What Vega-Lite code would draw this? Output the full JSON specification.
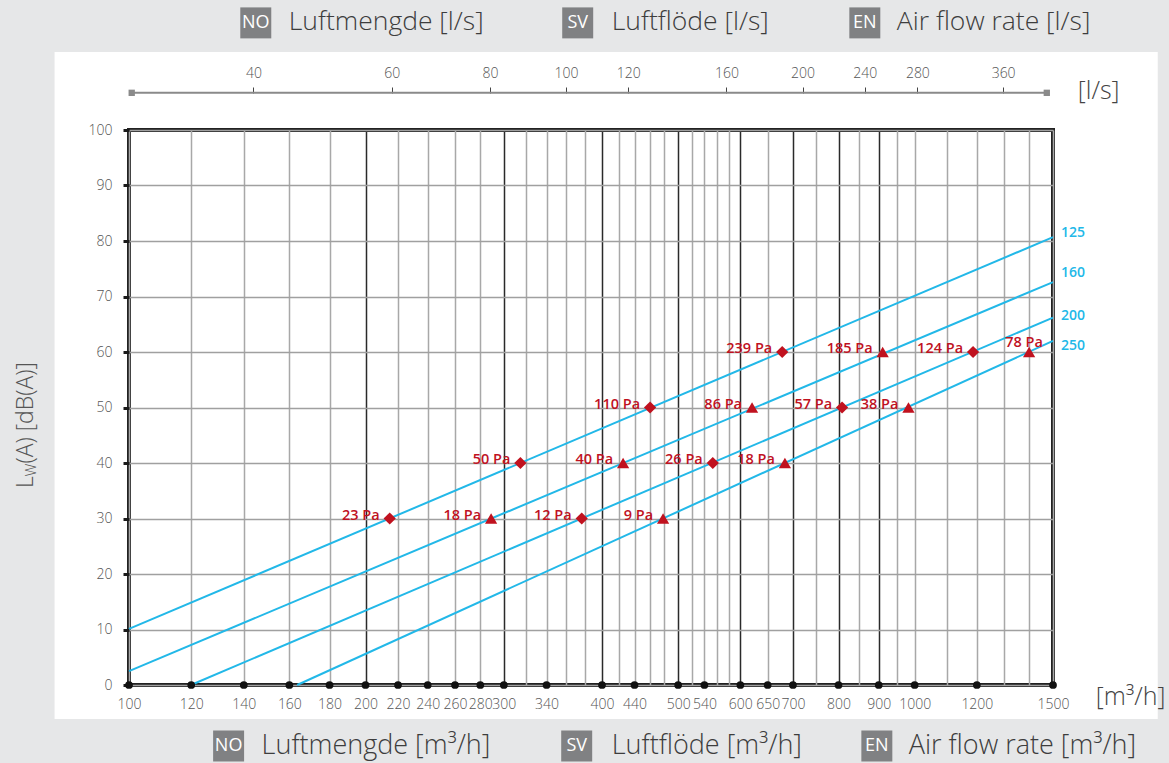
{
  "$schema": "https://vega.github.io/schema/vega-lite/v6.json",
  "width": 924,
  "height": 555,
  "autosize": {"type": "none"},
  "padding": {"left": 129, "top": 130, "right": 116, "bottom": 78},
  "background": "#ffffff",
  "config": {"view": {"stroke": "#222222", "strokeWidth": 4}, "font": "Open Sans"},
  "datasets": {
    "lines": [
      {"duct": "125", "q": 100, "db": 10.1}, {"duct": "125", "q": 1500, "db": 80.7},
      {"duct": "160", "q": 100, "db": 2.5}, {"duct": "160", "q": 1500, "db": 72.6},
      {"duct": "200", "q": 119.9, "db": 0}, {"duct": "200", "q": 1500, "db": 66.2},
      {"duct": "250", "q": 163.7, "db": 0}, {"duct": "250", "q": 1500, "db": 62.0}
    ],
    "points": [
      {"duct": "125", "q": 214.7, "db": 30, "label": "23 Pa"},
      {"duct": "125", "q": 314.9, "db": 40, "label": "50 Pa"},
      {"duct": "125", "q": 460.5, "db": 50, "label": "110 Pa"},
      {"duct": "125", "q": 678.3, "db": 60, "label": "239 Pa"},
      {"duct": "160", "q": 289.0, "db": 30, "label": "18 Pa"},
      {"duct": "160", "q": 425.5, "db": 40, "label": "40 Pa"},
      {"duct": "160", "q": 620.9, "db": 50, "label": "86 Pa"},
      {"duct": "160", "q": 910.5, "db": 60, "label": "185 Pa"},
      {"duct": "200", "q": 376.9, "db": 30, "label": "12 Pa"},
      {"duct": "200", "q": 553.4, "db": 40, "label": "26 Pa"},
      {"duct": "200", "q": 808.4, "db": 50, "label": "57 Pa"},
      {"duct": "200", "q": 1186.7, "db": 60, "label": "124 Pa"},
      {"duct": "250", "q": 478.4, "db": 30, "label": "9 Pa"},
      {"duct": "250", "q": 683.7, "db": 40, "label": "18 Pa"},
      {"duct": "250", "q": 982.0, "db": 50, "label": "38 Pa"},
      {"duct": "250", "q": 1398.6, "db": 60, "label": "78 Pa"}
    ],
    "lineLabels": [
      {"duct": "125", "q": 1500, "ly": 81.4},
      {"duct": "160", "q": 1500, "ly": 74.2},
      {"duct": "200", "q": 1500, "ly": 66.5},
      {"duct": "250", "q": 1500, "ly": 61.0}
    ],
    "axisDots": [
      {"q": 100}, {"q": 120}, {"q": 140}, {"q": 160}, {"q": 180}, {"q": 200}, {"q": 220}, {"q": 240},
      {"q": 260}, {"q": 280}, {"q": 300}, {"q": 340}, {"q": 400}, {"q": 440}, {"q": 500}, {"q": 540},
      {"q": 600}, {"q": 650}, {"q": 700}, {"q": 800}, {"q": 900}, {"q": 1000}, {"q": 1200}, {"q": 1500}
    ]
  },
  "resolve": {"scale": {"x": "independent"}, "axis": {"x": "independent"}},
  "layer": [
    {
      "layer": [
        {
          "data": {"values": [{}]},
          "mark": {"type": "rect", "color": "#e6e7e8"},
          "encoding": {
            "x": {"datum": 50, "type": "quantitative", "scale": {"type": "log", "domain": [100, 1500], "nice": false}},
            "x2": {"datum": 80.4},
            "y": {"datum": 140, "type": "quantitative", "scale": {"domain": [0, 100], "nice": false, "zero": false}},
            "y2": {"datum": -30}
          }
        },
        {
          "data": {"values": [{}]},
          "mark": {"type": "rect", "color": "#e6e7e8"},
          "encoding": {
            "x": {"datum": 2039, "type": "quantitative", "scale": {"type": "log", "domain": [100, 1500], "nice": false}},
            "x2": {"datum": 3000},
            "y": {"datum": 140, "type": "quantitative", "scale": {"domain": [0, 100], "nice": false, "zero": false}},
            "y2": {"datum": -30}
          }
        },
        {
          "data": {"values": [{}]},
          "mark": {"type": "rect", "color": "#e6e7e8"},
          "encoding": {
            "x": {"datum": 50, "type": "quantitative", "scale": {"type": "log", "domain": [100, 1500], "nice": false}},
            "x2": {"datum": 3000},
            "y": {"datum": 140, "type": "quantitative", "scale": {"domain": [0, 100], "nice": false, "zero": false}},
            "y2": {"datum": 114.05}
          }
        },
        {
          "data": {"values": [{}]},
          "mark": {"type": "rect", "color": "#e6e7e8"},
          "encoding": {
            "x": {"datum": 50, "type": "quantitative", "scale": {"type": "log", "domain": [100, 1500], "nice": false}},
            "x2": {"datum": 3000},
            "y": {"datum": -6.13, "type": "quantitative", "scale": {"domain": [0, 100], "nice": false, "zero": false}},
            "y2": {"datum": -30}
          }
        },
        {
          "data": {"name": "lines"},
          "mark": {"type": "line", "color": "#22b8e8", "strokeWidth": 2},
          "encoding": {
            "x": {
              "field": "q", "type": "quantitative", "title": null,
              "scale": {"type": "log", "domain": [100, 1500], "nice": false},
              "axis": {
                "orient": "bottom",
                "title": null,
                "values": [100, 120, 140, 160, 180, 200, 220, 240, 260, 280, 300, 320, 340, 360, 380, 400, 420, 440, 460, 480, 500, 520, 540, 560, 580, 600, 650, 700, 750, 800, 850, 900, 950, 1000, 1100, 1200, 1300, 1400, 1500],
                "labelExpr": "indexof([100,120,140,160,180,200,220,240,260,280,300,340,400,440,500,540,600,650,700,800,900,1000,1200,1500], datum.value) >= 0 ? format(datum.value, 'd') : ''",
                "ticks": false,
                "tickSize": 0,
                "domain": false,
                "grid": true,
                "gridColor": {"condition": {"test": "indexof([200,300,400,500,600,700,800,900], datum.value) >= 0", "value": "#2a2a2a"}, "value": "#a8a8a8"},
                "gridWidth": 1.5,
                "labelFontSize": 14,
                "labelFontWeight": 300,
                "labelColor": "#555555",
                "labelPadding": 12,
                "labelOverlap": false,
                "labelFlush": false
              }
            },
            "y": {
              "field": "db", "type": "quantitative", "title": null,
              "scale": {"domain": [0, 100], "nice": false, "zero": false},
              "axis": {
                "title": null,
                "values": [0, 5, 10, 15, 20, 25, 30, 35, 40, 45, 50, 55, 60, 65, 70, 75, 80, 85, 90, 95, 100],
                "labelExpr": "datum.value % 10 === 0 ? datum.label : ''",
                "tickColor": {"condition": {"test": "datum.value % 10 === 0", "value": "#1a1a1a"}, "value": "transparent"},
                "tickWidth": 3,
                "tickSize": 6,
                "domain": false,
                "grid": true,
                "gridColor": "#a0a0a0",
                "gridWidth": 1.5,
                "labelFontSize": 14,
                "labelFontWeight": 300,
                "labelColor": "#555555",
                "labelPadding": 11
              }
            },
            "detail": {"field": "duct", "type": "nominal"}
          }
        },
        {
          "data": {"name": "points"},
          "mark": {"type": "point", "filled": true, "opacity": 1, "color": "#c0121f", "size": 150},
          "encoding": {
            "x": {"field": "q", "type": "quantitative", "title": null, "scale": {"type": "log", "domain": [100, 1500], "nice": false}},
            "y": {"field": "db", "type": "quantitative", "title": null, "scale": {"domain": [0, 100], "nice": false, "zero": false}},
            "shape": {"field": "duct", "type": "nominal", "scale": {"domain": ["125", "160", "200", "250"], "range": ["diamond", "triangle-up", "diamond", "triangle-up"]}, "legend": null}
          }
        },
        {
          "data": {"name": "points"},
          "transform": [{"filter": "datum.q < 1300"}],
          "mark": {"type": "text", "align": "right", "baseline": "middle", "dx": -10, "dy": -3, "fontSize": 14.5, "fontWeight": 600, "color": "#c0121f"},
          "encoding": {
            "x": {"field": "q", "type": "quantitative", "title": null, "scale": {"type": "log", "domain": [100, 1500], "nice": false}},
            "y": {"field": "db", "type": "quantitative", "title": null, "scale": {"domain": [0, 100], "nice": false, "zero": false}},
            "text": {"field": "label", "type": "nominal"}
          }
        },
        {
          "data": {"name": "points"},
          "transform": [{"filter": "datum.q >= 1300"}],
          "mark": {"type": "text", "align": "center", "baseline": "middle", "dx": -5, "dy": -9, "fontSize": 14.5, "fontWeight": 600, "color": "#c0121f"},
          "encoding": {
            "x": {"field": "q", "type": "quantitative", "title": null, "scale": {"type": "log", "domain": [100, 1500], "nice": false}},
            "y": {"field": "db", "type": "quantitative", "title": null, "scale": {"domain": [0, 100], "nice": false, "zero": false}},
            "text": {"field": "label", "type": "nominal"}
          }
        },
        {
          "data": {"name": "lineLabels"},
          "mark": {"type": "text", "align": "left", "baseline": "middle", "dx": 8, "fontSize": 14, "fontWeight": 600, "color": "#22b8e8"},
          "encoding": {
            "x": {"field": "q", "type": "quantitative", "title": null, "scale": {"type": "log", "domain": [100, 1500], "nice": false}},
            "y": {"field": "ly", "type": "quantitative", "title": null, "scale": {"domain": [0, 100], "nice": false, "zero": false}},
            "text": {"field": "duct", "type": "nominal"}
          }
        },
        {
          "data": {"name": "axisDots"},
          "mark": {"type": "point", "filled": true, "opacity": 1, "color": "#111111", "size": 60},
          "encoding": {
            "x": {"field": "q", "type": "quantitative", "title": null, "scale": {"type": "log", "domain": [100, 1500], "nice": false}},
            "y": {"datum": 0, "type": "quantitative", "scale": {"domain": [0, 100], "nice": false, "zero": false}}
          }
        },
        {
          "data": {"values": [{}]},
          "mark": {"type": "text", "text": "L", "angle": 270, "align": "left", "baseline": "middle", "fontSize": 23, "fontWeight": 300, "color": "#555555"},
          "encoding": {
            "x": {"datum": 73.9, "type": "quantitative", "scale": {"type": "log", "domain": [100, 1500], "nice": false}},
            "y": {"datum": 35.5, "type": "quantitative", "scale": {"domain": [0, 100], "nice": false, "zero": false}}
          }
        },
        {
          "data": {"values": [{}]},
          "mark": {"type": "text", "text": "W", "angle": 270, "align": "left", "baseline": "middle", "fontSize": 14, "fontWeight": 300, "color": "#555555"},
          "encoding": {
            "x": {"datum": 75.3, "type": "quantitative", "scale": {"type": "log", "domain": [100, 1500], "nice": false}},
            "y": {"datum": 37.6, "type": "quantitative", "scale": {"domain": [0, 100], "nice": false, "zero": false}}
          }
        },
        {
          "data": {"values": [{}]},
          "mark": {"type": "text", "text": "(A) [dB(A)]", "angle": 270, "align": "left", "baseline": "middle", "fontSize": 23, "fontWeight": 300, "color": "#555555"},
          "encoding": {
            "x": {"datum": 73.9, "type": "quantitative", "scale": {"type": "log", "domain": [100, 1500], "nice": false}},
            "y": {"datum": 39.9, "type": "quantitative", "scale": {"domain": [0, 100], "nice": false, "zero": false}}
          }
        },
        {
          "data": {"values": [{}]},
          "mark": {"type": "text", "text": "[l/s]", "align": "left", "baseline": "middle", "fontSize": 25, "fontWeight": 300, "color": "#444444"},
          "encoding": {
            "x": {"datum": 1613, "type": "quantitative", "scale": {"type": "log", "domain": [100, 1500], "nice": false}},
            "y": {"datum": 107.0, "type": "quantitative", "scale": {"domain": [0, 100], "nice": false, "zero": false}}
          }
        },
        {
          "data": {"values": [{}]},
          "mark": {"type": "text", "text": "[m³/h]", "align": "left", "baseline": "middle", "fontSize": 25, "fontWeight": 300, "color": "#444444"},
          "encoding": {
            "x": {"datum": 1700, "type": "quantitative", "scale": {"type": "log", "domain": [100, 1500], "nice": false}},
            "y": {"datum": -2.16, "type": "quantitative", "scale": {"domain": [0, 100], "nice": false, "zero": false}}
          }
        },
        {
          "data": {"values": [{}]},
          "encoding": {
            "x": {"datum": 145.0, "type": "quantitative", "scale": {"type": "log", "domain": [100, 1500], "nice": false}},
            "y": {"datum": 119.3, "type": "quantitative", "scale": {"domain": [0, 100], "nice": false, "zero": false}}
          },
          "layer": [
            {"mark": {"type": "point", "shape": "square", "filled": true, "opacity": 1, "size": 960, "color": "#808183"}},
            {"mark": {"type": "text", "text": "NO", "align": "center", "baseline": "middle", "fontSize": 18, "color": "#ffffff"}}
          ]
        },
        {
          "data": {"values": [{}]},
          "mark": {"type": "text", "text": "Luftmengde [l/s]", "align": "left", "baseline": "middle", "fontSize": 26.5, "fontWeight": 300, "color": "#3d3d3d"},
          "encoding": {
            "x": {"datum": 159.7, "type": "quantitative", "scale": {"type": "log", "domain": [100, 1500], "nice": false}},
            "y": {"datum": 119.4, "type": "quantitative", "scale": {"domain": [0, 100], "nice": false, "zero": false}}
          }
        },
        {
          "data": {"values": [{}]},
          "encoding": {
            "x": {"datum": 372.5, "type": "quantitative", "scale": {"type": "log", "domain": [100, 1500], "nice": false}},
            "y": {"datum": 119.3, "type": "quantitative", "scale": {"domain": [0, 100], "nice": false, "zero": false}}
          },
          "layer": [
            {"mark": {"type": "point", "shape": "square", "filled": true, "opacity": 1, "size": 960, "color": "#808183"}},
            {"mark": {"type": "text", "text": "SV", "align": "center", "baseline": "middle", "fontSize": 18, "color": "#ffffff"}}
          ]
        },
        {
          "data": {"values": [{}]},
          "mark": {"type": "text", "text": "Luftflöde [l/s]", "align": "left", "baseline": "middle", "fontSize": 26.5, "fontWeight": 300, "color": "#3d3d3d"},
          "encoding": {
            "x": {"datum": 411.6, "type": "quantitative", "scale": {"type": "log", "domain": [100, 1500], "nice": false}},
            "y": {"datum": 119.4, "type": "quantitative", "scale": {"domain": [0, 100], "nice": false, "zero": false}}
          }
        },
        {
          "data": {"values": [{}]},
          "encoding": {
            "x": {"datum": 864.1, "type": "quantitative", "scale": {"type": "log", "domain": [100, 1500], "nice": false}},
            "y": {"datum": 119.3, "type": "quantitative", "scale": {"domain": [0, 100], "nice": false, "zero": false}}
          },
          "layer": [
            {"mark": {"type": "point", "shape": "square", "filled": true, "opacity": 1, "size": 960, "color": "#808183"}},
            {"mark": {"type": "text", "text": "EN", "align": "center", "baseline": "middle", "fontSize": 18, "color": "#ffffff"}}
          ]
        },
        {
          "data": {"values": [{}]},
          "mark": {"type": "text", "text": "Air flow rate [l/s]", "align": "left", "baseline": "middle", "fontSize": 26.5, "fontWeight": 300, "color": "#3d3d3d"},
          "encoding": {
            "x": {"datum": 949.0, "type": "quantitative", "scale": {"type": "log", "domain": [100, 1500], "nice": false}},
            "y": {"datum": 119.4, "type": "quantitative", "scale": {"domain": [0, 100], "nice": false, "zero": false}}
          }
        },
        {
          "data": {"values": [{}]},
          "encoding": {
            "x": {"datum": 133.9, "type": "quantitative", "scale": {"type": "log", "domain": [100, 1500], "nice": false}},
            "y": {"datum": -10.99, "type": "quantitative", "scale": {"domain": [0, 100], "nice": false, "zero": false}}
          },
          "layer": [
            {"mark": {"type": "point", "shape": "square", "filled": true, "opacity": 1, "size": 960, "color": "#808183"}},
            {"mark": {"type": "text", "text": "NO", "align": "center", "baseline": "middle", "fontSize": 18, "color": "#ffffff"}}
          ]
        },
        {
          "data": {"values": [{}]},
          "mark": {"type": "text", "text": "Luftmengde [m³/h]", "align": "left", "baseline": "middle", "fontSize": 27, "fontWeight": 300, "color": "#3d3d3d"},
          "encoding": {
            "x": {"datum": 147.5, "type": "quantitative", "scale": {"type": "log", "domain": [100, 1500], "nice": false}},
            "y": {"datum": -10.99, "type": "quantitative", "scale": {"domain": [0, 100], "nice": false, "zero": false}}
          }
        },
        {
          "data": {"values": [{}]},
          "encoding": {
            "x": {"datum": 371.4, "type": "quantitative", "scale": {"type": "log", "domain": [100, 1500], "nice": false}},
            "y": {"datum": -10.99, "type": "quantitative", "scale": {"domain": [0, 100], "nice": false, "zero": false}}
          },
          "layer": [
            {"mark": {"type": "point", "shape": "square", "filled": true, "opacity": 1, "size": 960, "color": "#808183"}},
            {"mark": {"type": "text", "text": "SV", "align": "center", "baseline": "middle", "fontSize": 18, "color": "#ffffff"}}
          ]
        },
        {
          "data": {"values": [{}]},
          "mark": {"type": "text", "text": "Luftflöde [m³/h]", "align": "left", "baseline": "middle", "fontSize": 27, "fontWeight": 300, "color": "#3d3d3d"},
          "encoding": {
            "x": {"datum": 411.6, "type": "quantitative", "scale": {"type": "log", "domain": [100, 1500], "nice": false}},
            "y": {"datum": -10.99, "type": "quantitative", "scale": {"domain": [0, 100], "nice": false, "zero": false}}
          }
        },
        {
          "data": {"values": [{}]},
          "encoding": {
            "x": {"datum": 895.1, "type": "quantitative", "scale": {"type": "log", "domain": [100, 1500], "nice": false}},
            "y": {"datum": -10.99, "type": "quantitative", "scale": {"domain": [0, 100], "nice": false, "zero": false}}
          },
          "layer": [
            {"mark": {"type": "point", "shape": "square", "filled": true, "opacity": 1, "size": 960, "color": "#808183"}},
            {"mark": {"type": "text", "text": "EN", "align": "center", "baseline": "middle", "fontSize": 18, "color": "#ffffff"}}
          ]
        },
        {
          "data": {"values": [{}]},
          "mark": {"type": "text", "text": "Air flow rate [m³/h]", "align": "left", "baseline": "middle", "fontSize": 27, "fontWeight": 300, "color": "#3d3d3d"},
          "encoding": {
            "x": {"datum": 982.9, "type": "quantitative", "scale": {"type": "log", "domain": [100, 1500], "nice": false}},
            "y": {"datum": -10.99, "type": "quantitative", "scale": {"domain": [0, 100], "nice": false, "zero": false}}
          }
        }
      ]
    },
    {
      "data": {"values": [{}]},
      "layer": [
        {
          "mark": {"type": "rule", "color": "#8a8a8a", "strokeWidth": 2},
          "encoding": {
            "x": {
              "datum": 100.8, "type": "quantitative",
              "scale": {"type": "log", "domain": [100, 1500], "nice": false},
              "axis": {
                "orient": "top",
                "title": null,
                "offset": 37,
                "values": [144, 216, 288, 360, 432, 576, 720, 864, 1008, 1296],
                "labelExpr": "format(datum.value / 3.6, 'd')",
                "domain": false,
                "grid": false,
                "ticks": true,
                "tickSize": 6,
                "tickColor": "#444444",
                "tickWidth": 1,
                "labelFontSize": 14,
                "labelFontWeight": 300,
                "labelColor": "#555555",
                "labelPadding": 7,
                "labelOverlap": false,
                "labelFlush": false
              }
            },
            "x2": {"datum": 1473},
            "y": {"datum": 106.7, "type": "quantitative", "scale": {"domain": [0, 100], "nice": false, "zero": false}}
          }
        },
        {
          "mark": {"type": "point", "shape": "square", "filled": true, "opacity": 1, "size": 40, "color": "#8a8a8a"},
          "encoding": {
            "x": {"datum": 100.8, "type": "quantitative", "scale": {"type": "log", "domain": [100, 1500], "nice": false}},
            "y": {"datum": 106.7, "type": "quantitative", "scale": {"domain": [0, 100], "nice": false, "zero": false}}
          }
        },
        {
          "mark": {"type": "point", "shape": "square", "filled": true, "opacity": 1, "size": 40, "color": "#8a8a8a"},
          "encoding": {
            "x": {"datum": 1473, "type": "quantitative", "scale": {"type": "log", "domain": [100, 1500], "nice": false}},
            "y": {"datum": 106.7, "type": "quantitative", "scale": {"domain": [0, 100], "nice": false, "zero": false}}
          }
        }
      ]
    }
  ]
}
